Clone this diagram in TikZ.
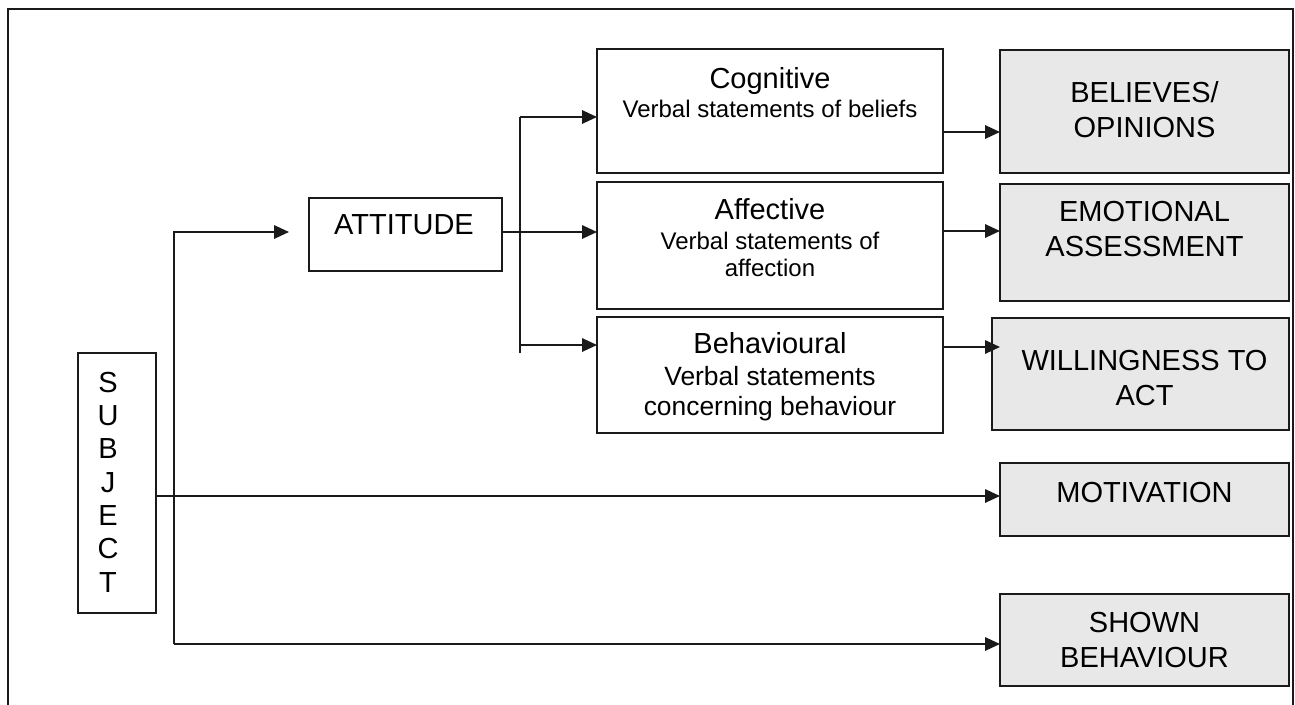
\documentclass[tikz,border=0pt]{standalone}
\usepackage{fontspec}
\setmainfont{Liberation Sans}
\usetikzlibrary{arrows.meta,calc}
\definecolor{boxgrey}{HTML}{E8E8E8}
\definecolor{linecol}{HTML}{1A1A1A}
\tikzset{
  box/.style={draw=linecol, line width=1.7pt, rectangle, inner sep=0pt, outer sep=0pt},
  greybox/.style={box, fill=boxgrey},
  arr/.style={draw=linecol, line width=1.7pt, -{Triangle[length=15pt,width=13.5pt]}},
  conn/.style={draw=linecol, line width=1.7pt},
  bigtxt/.style={font=\fontsize{29}{34.5}\selectfont, align=center, anchor=base, inner sep=0pt},
  titletxt/.style={font=\fontsize{29}{34}\selectfont, anchor=base, inner sep=0pt},
  subtxt/.style={font=\fontsize{24}{27}\selectfont, align=center, anchor=base, inner sep=0pt},
  subtxtb/.style={font=\fontsize{26.4}{30}\selectfont, align=center, anchor=base, inner sep=0pt},
  vtxt/.style={font=\fontsize{29}{33.3}\selectfont, align=center, anchor=base, inner sep=0pt},
}
\begin{document}
\begin{tikzpicture}[x=1pt,y=-1pt]
\useasboundingbox (0,0) rectangle (1295,704);
% outer frame
\draw[line width=2pt, draw=linecol] (8,712) -- (8,9) -- (1293,9) -- (1293,712);

% boxes
\node[box, minimum width=78pt, minimum height=260pt] (subj) at (117,483) {};
\node[box, minimum width=193pt, minimum height=73pt] (att) at (405.5,234.5) {};
\node[box, minimum width=346pt, minimum height=124pt] (cog) at (770,111) {};
\node[box, minimum width=346pt, minimum height=127pt] (aff) at (770,245.5) {};
\node[box, minimum width=346pt, minimum height=116pt] (beh) at (770,375) {};
\node[greybox, minimum width=289pt, minimum height=123pt] (bel) at (1144.5,111.5) {};
\node[greybox, minimum width=289pt, minimum height=117pt] (emo) at (1144.5,242.5) {};
\node[greybox, minimum width=297pt, minimum height=112pt] (wil) at (1140.5,374) {};
\node[greybox, minimum width=289pt, minimum height=73pt] (mot) at (1144.5,499.5) {};
\node[greybox, minimum width=289pt, minimum height=92pt] (sho) at (1144.5,640) {};

% texts (multi-line nodes are anchored at the baseline of their last line)
\node[vtxt] (subjt) at (108,592) {S\\U\\B\\J\\E\\C\\T};
\node[bigtxt] (attt) at (404,234) {ATTITUDE};
\node[titletxt] (cogt) at (770,88) {Cognitive};
\node[subtxt] (cogs) at (770,117) {Verbal statements of beliefs};
\node[titletxt] (afft) at (770,219) {Affective};
\node[subtxt] (affs) at (770,276) {Verbal statements of\\affection};
\node[titletxt] (beht) at (770,353) {Behavioural};
\node[subtxtb] (behs) at (770,415) {Verbal statements\\concerning behaviour};
\node[bigtxt] (belt) at (1144.5,137) {BELIEVES/\\OPINIONS};
\node[bigtxt] (emot) at (1144.5,256) {EMOTIONAL\\ASSESSMENT};
\node[bigtxt] (wilt) at (1144.5,405) {WILLINGNESS TO\\ACT};
\node[bigtxt] (mott) at (1144.5,502) {MOTIVATION};
\node[bigtxt] (shot) at (1144.5,667) {SHOWN\\BEHAVIOUR};

% connector coordinates
\coordinate (t1) at (174,232);
\coordinate (t2) at (174,644);
\coordinate (attin) at (289,232);
\coordinate (s1) at (156,496);
\coordinate (a1) at (502,232);
\coordinate (b1) at (520,117);
\coordinate (b2) at (520,345);
\coordinate (b3) at (520,353);
\coordinate (c1) at (943,132);
\coordinate (c2) at (943,231);
\coordinate (c3) at (943,347);
\coordinate (wtip) at (1000,347);

% connectors
\draw[arr] (t2) |- (attin);
\draw[arr] (t2) -- (t2 -| sho.west);
\draw[arr] (s1) -- (s1 -| mot.west);
\draw[arr] (a1) -- (a1 -| aff.west);
\draw[conn] (b1) -- (b3);
\draw[arr] (b1) -- (b1 -| cog.west);
\draw[arr] (b2) -- (b2 -| beh.west);
\draw[arr] (c1) -- (c1 -| bel.west);
\draw[arr] (c2) -- (c2 -| emo.west);
\draw[arr] (c3) -- (wtip);
\end{tikzpicture}
\end{document}
